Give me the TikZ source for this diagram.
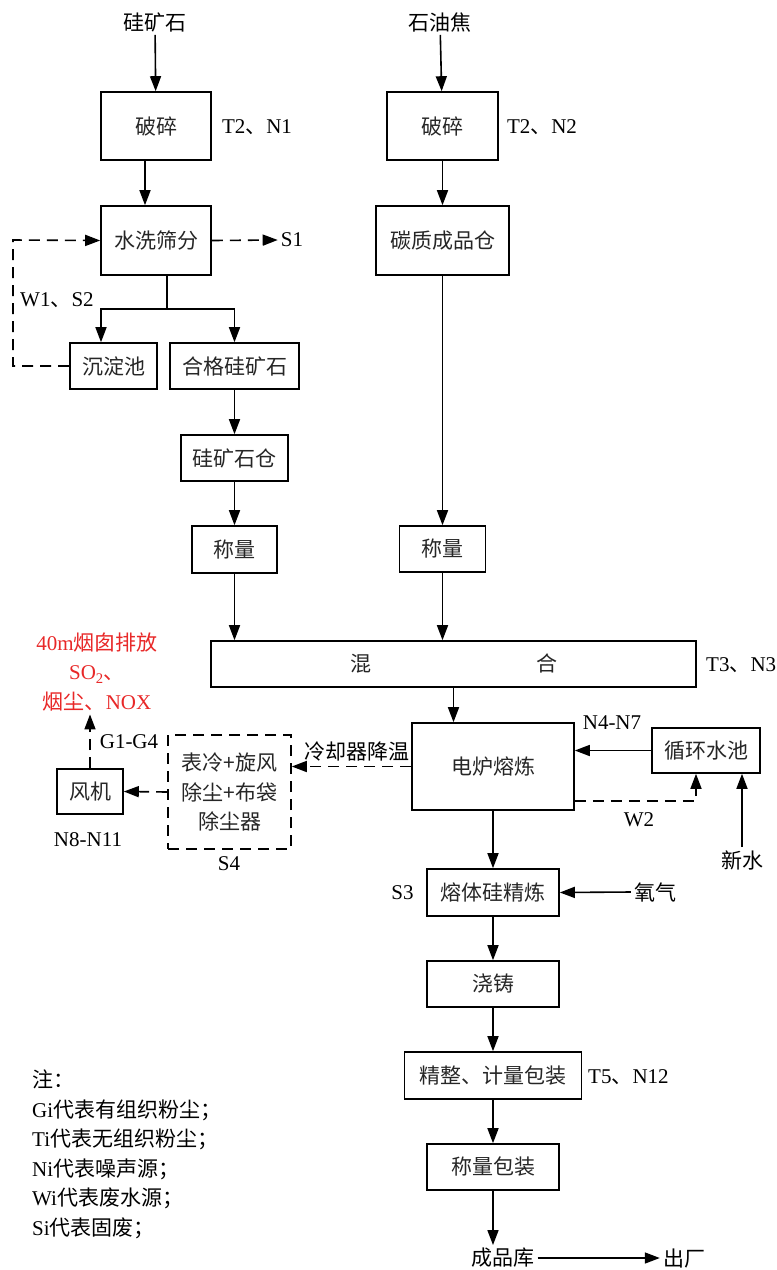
\documentclass[tikz,border=0pt]{standalone}
\usepackage{fontspec}
\setmainfont{Noto Sans CJK SC}
\newfontfamily\lat{Liberation Serif}
\usetikzlibrary{arrows.meta}
\definecolor{stackred}{RGB}{232,40,40}
\tikzstyle{every node}=[font=\fontsize{21}{29.5}\selectfont,inner sep=3pt]
\tikzstyle{box}=[draw=black,line width=1.6pt,align=center,text=black!85]
\tikzstyle{dbox}=[box,dash pattern=on 11pt off 7pt]
\tikzstyle{flow}=[line width=1.6pt,-{Triangle[length=15pt,width=11pt]}]
\tikzstyle{dflow}=[flow,dash pattern=on 11pt off 7pt]

\begin{document}
\begin{tikzpicture}[x=1pt,y=-1pt]
	\useasboundingbox (0,0) rectangle (777,1270);
	% left column: silica ore
	\node (ore) at (155,22) {硅矿石};
	\node[box,minimum width=110pt,minimum height=68pt] (crushA) at (156,126) {破碎};
	\node (tnA) at (257,127) {{\lat T2}、{\lat N1}};
	\node[box,minimum width=110pt,minimum height=69pt] (wash) at (156,240.5) {水洗筛分};
	\node (s1) at (292,240) {\lat S1};
	\node[anchor=west] (wsa) at (17,300) {{\lat W1}、{\lat S2}};
	\node[box,minimum width=87pt,minimum height=46pt] (settle) at (113.5,366) {沉淀池};
	\node[box,minimum width=129pt,minimum height=46pt] (qual) at (234.5,366) {合格硅矿石};
	\node[box,minimum width=107pt,minimum height=46pt] (bin) at (234.5,458) {硅矿石仓};
	\node[box,minimum width=85pt,minimum height=47pt] (weighA) at (234.5,549.5) {称量};
	\coordinate (split) at (167,309);
	\coordinate (loopc) at (13,240);
	% right column: petroleum coke
	\node (coke) at (440,22) {石油焦};
	\node[box,minimum width=111pt,minimum height=68pt] (crushB) at (442.5,126) {破碎};
	\node (tnB) at (542,127) {{\lat T2}、{\lat N2}};
	\node[box,minimum width=133pt,minimum height=69pt] (carbon) at (442.5,240.5) {碳质成品仓};
	\node[box,minimum width=86pt,minimum height=46pt] (weighB) at (442.5,549) {称量};
	% mixing and smelting
	\node[box,minimum width=485pt,minimum height=46pt] (mix) at (453.5,664) {混\hspace{165pt}合};
	\node[anchor=west] (tnC) at (703,665) {{\lat T3}、{\lat N3}};
	\node[box,minimum width=162pt,minimum height=87pt] (furnace) at (493,766.5) {电炉熔炼};
	\node (nfur) at (612,723) {\lat N4-N7};
	\node[box,minimum width=108pt,minimum height=45pt] (pool) at (706,750.5) {循环水池};
	\node (w2) at (639,820) {\lat W2};
	\node (fresh) at (742,860) {新水};
	\coordinate (w2c) at (696,801);
	% gas treatment
	\node (cool) at (357,752) {冷却器降温};
	\node[dbox,minimum width=123pt,minimum height=114pt] (filter) at (229.5,792) {表冷+旋风\\除尘+布袋\\除尘器};
	\node (s4) at (229,864) {\lat S4};
	\node[box,minimum width=66pt,minimum height=45pt] (fan) at (90,791.5) {风机};
	\node (nfan) at (88,840) {\lat N8-N11};
	\node (gas) at (129,742) {\lat G1-G4};
	\node[text=stackred,align=center] (stack) at (97,672) {{\lat 40m}烟囱排放\\{\lat SO\textsubscript{2}}、\\烟尘、{\lat NOX}};
	% refining and packing
	\node[box,minimum width=132pt,minimum height=47pt] (refine) at (493,892.5) {熔体硅精炼};
	\node (s3) at (402.5,893) {\lat S3};
	\node (oxy) at (655,892) {氧气};
	\node[box,minimum width=132pt,minimum height=46pt] (cast) at (493,984) {浇铸};
	\node[box,minimum width=177pt,minimum height=47pt] (finish) at (493,1075.5) {精整、计量包装};
	\node[anchor=west] (tnD) at (585,1077) {{\lat T5}、{\lat N12}};
	\node[box,minimum width=132pt,minimum height=46pt] (pack) at (493,1167) {称量包装};
	\node (store) at (503,1258) {成品库};
	\node (exit) at (684,1258) {出厂};
	% notes
	\node[anchor=west,align=left] (note) at (29,1154.5) {注：\\{\lat Gi}代表有组织粉尘；\\{\lat Ti}代表无组织粉尘；\\{\lat Ni}代表噪声源；\\{\lat Wi}代表废水源；\\{\lat Si}代表固废；};

	\draw[flow] (ore) -- (crushA);
	\draw[flow] ([xshift=-11pt]crushA.south) -- ([xshift=-11pt]wash.north);
	\draw[dflow] (wash.east) -- (s1.west);
	\draw[line width=1.6pt] ([xshift=11pt]wash.south) -- (split);
	\draw[flow] (split) -| ([xshift=-12.5pt]settle.north);
	\draw[flow] (split) -| (qual.north);
	\draw[dflow] (settle.west) -| (loopc) -- (wash.west);
	\draw[flow] (qual) -- (bin);
	\draw[flow] (bin) -- (weighA);
	\draw[flow] (weighA.south) -- (weighA.south |- mix.north);
	\draw[flow] (coke) -- (crushB);
	\draw[flow] (crushB) -- (carbon);
	\draw[flow] (carbon) -- (weighB);
	\draw[flow] (weighB.south) -- (weighB.south |- mix.north);
	\draw[flow] (mix.south) -- (mix.south |- furnace.north);
	\draw[flow] (pool.west) -- (pool.west -| furnace.east);
	\draw[dflow] (furnace.east |- w2c) -- (w2c) -- (w2c |- pool.south);
	\draw[flow] (fresh.north) -- (fresh.north |- pool.south);
	\draw[dflow] (furnace.west) -- (furnace.west -| filter.east);
	\draw[dflow] (filter.west) -- (fan.east);
	\draw[dflow] (fan.north) -- (fan.north |- stack.south);
	\draw[flow] (furnace) -- (refine);
	\draw[flow] (oxy.west) -- (refine.east);
	\draw[flow] (refine) -- (cast);
	\draw[flow] (cast) -- (finish);
	\draw[flow] (finish) -- (pack);
	\draw[flow] (pack.south) -- (pack.south |- store.north);
	\draw[flow] (store) -- (exit);
\end{tikzpicture}
\end{document}
